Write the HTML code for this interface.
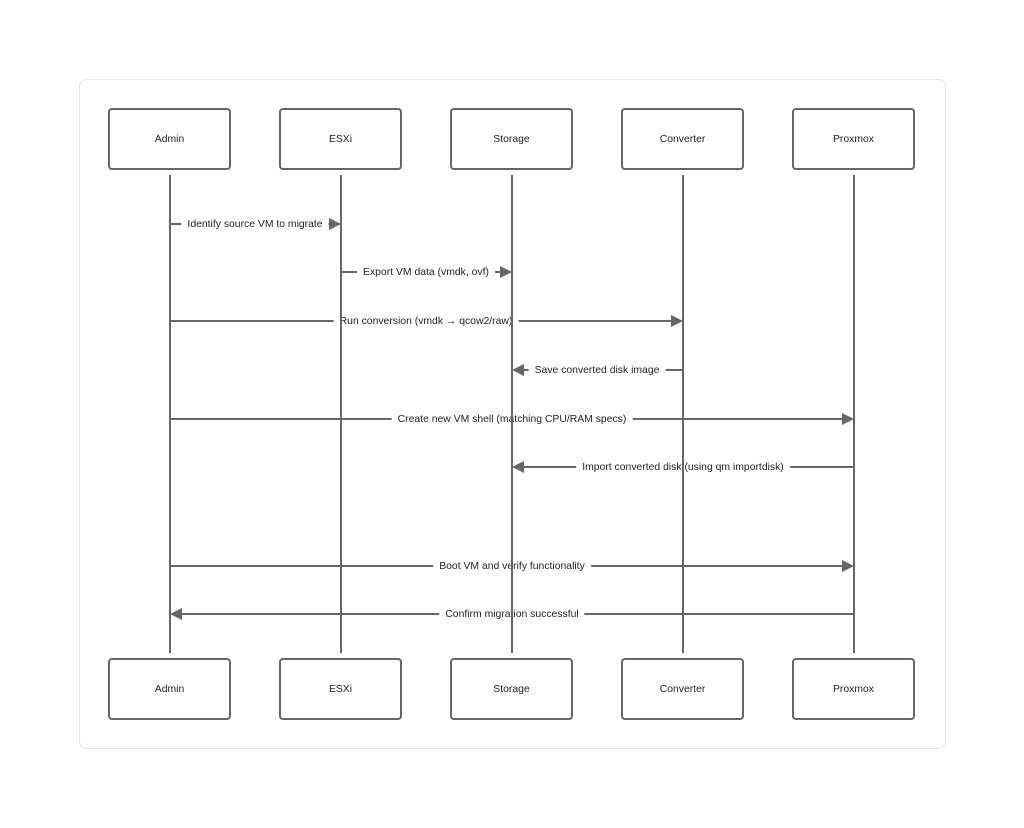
<!DOCTYPE html>
<html><head><meta charset="utf-8"><style>
html,body{margin:0;padding:0;background:#fff;}
body{width:1024px;height:828px;position:relative;overflow:hidden;font-family:"Liberation Sans",sans-serif;}
.frame{position:absolute;left:79px;top:79px;width:867px;height:670px;border:1px solid #e4e4e4;border-radius:8px;box-sizing:border-box;}
svg{position:absolute;left:0;top:0;}
.lbl{position:absolute;transform:translate(-50%,-50%);background:#fff;padding:0 6px;font-size:10.4px;color:#222;white-space:nowrap;line-height:12px;z-index:2;margin-top:1px;}
.box{position:absolute;width:123px;height:62px;border:2px solid #666;border-radius:4px;box-sizing:border-box;background:#fff;display:flex;align-items:center;justify-content:center;font-size:10.4px;color:#222;z-index:3;padding-top:1px;}
#top{z-index:4;}
</style></head><body>
<div class="frame"></div>
<svg width="1024" height="828" style="z-index:1">
<g stroke="#666" stroke-width="2" fill="#666">
<line x1="170" y1="224" x2="331" y2="224"/><polygon points="341,224 329,218 329,230" stroke="none"/>
<line x1="341" y1="272" x2="502" y2="272"/><polygon points="512,272 500,266 500,278" stroke="none"/>
<line x1="170" y1="321" x2="673" y2="321"/><polygon points="683,321 671,315 671,327" stroke="none"/>
<line x1="683" y1="370" x2="522" y2="370"/><polygon points="512,370 524,364 524,376" stroke="none"/>
<line x1="170" y1="419" x2="844" y2="419"/><polygon points="854,419 842,413 842,425" stroke="none"/>
<line x1="854" y1="467" x2="522" y2="467"/><polygon points="512,467 524,461 524,473" stroke="none"/>
<line x1="170" y1="566" x2="844" y2="566"/><polygon points="854,566 842,560 842,572" stroke="none"/>
<line x1="854" y1="614" x2="180" y2="614"/><polygon points="170,614 182,608 182,620" stroke="none"/>
</g></svg>
<div class="lbl" style="left:255px;top:224px">Identify source VM to migrate</div>
<div class="lbl" style="left:426px;top:272px">Export VM data (vmdk, ovf)</div>
<div class="lbl" style="left:426px;top:321px">Run conversion (vmdk → qcow2/raw)</div>
<div class="lbl" style="left:597px;top:370px">Save converted disk image</div>
<div class="lbl" style="left:512px;top:419px">Create new VM shell (matching CPU/RAM specs)</div>
<div class="lbl" style="left:683px;top:467px">Import converted disk (using qm importdisk)</div>
<div class="lbl" style="left:512px;top:566px">Boot VM and verify functionality</div>
<div class="lbl" style="left:512px;top:614px">Confirm migration successful</div>
<svg id="top" width="1024" height="828">
<g stroke="#666" stroke-width="2">
<line x1="170" y1="175" x2="170" y2="653"/>
<line x1="341" y1="175" x2="341" y2="653"/>
<line x1="512" y1="175" x2="512" y2="653"/>
<line x1="683" y1="175" x2="683" y2="653"/>
<line x1="854" y1="175" x2="854" y2="653"/>
</g></svg>
<div class="box" style="left:108px;top:108px">Admin</div>
<div class="box" style="left:279px;top:108px">ESXi</div>
<div class="box" style="left:450px;top:108px">Storage</div>
<div class="box" style="left:621px;top:108px">Converter</div>
<div class="box" style="left:792px;top:108px">Proxmox</div>
<div class="box" style="left:108px;top:658px">Admin</div>
<div class="box" style="left:279px;top:658px">ESXi</div>
<div class="box" style="left:450px;top:658px">Storage</div>
<div class="box" style="left:621px;top:658px">Converter</div>
<div class="box" style="left:792px;top:658px">Proxmox</div>
</body></html>
